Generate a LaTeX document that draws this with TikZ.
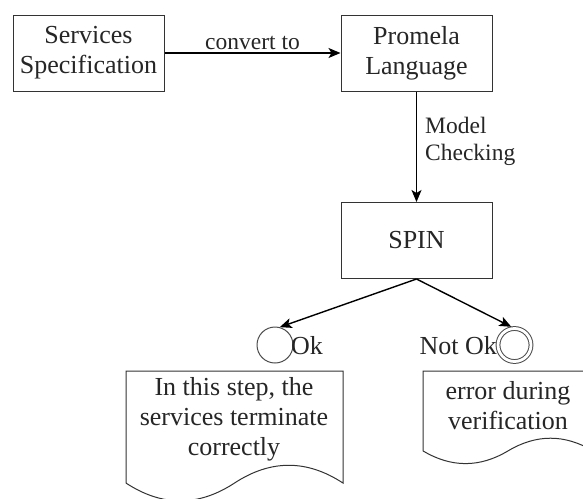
\documentclass[tikz,border=0pt]{standalone}
\usepackage{fontspec}
\setmainfont{Liberation Serif}
\usetikzlibrary{arrows.meta}
\tikzset{
  box/.style={draw=black!80, line width=1pt, minimum width=151pt, minimum height=76pt, inner sep=0pt, align=center, font=\fontsize{26}{30}\selectfont, text=black!85},
  edge/.style={draw=black, line width=1.4pt, -{Stealth[length=12pt,width=10pt,inset=3pt]}},
  lbl/.style={font=\fontsize{23.5}{27}\selectfont, text=black!85, inner sep=0pt},
  state/.style={circle, draw=black!70, line width=1pt, inner sep=0pt},
  doc/.style={draw=black!80, line width=1pt},
  doctext/.style={align=center, font=\fontsize{26}{30}\selectfont, text=black!85, inner sep=0pt},
  statetext/.style={font=\fontsize{26}{30}\selectfont, text=black!85, inner sep=0pt}
}
\begin{document}
\begin{tikzpicture}[x=1pt, y=-1pt]
\clip (0,0) rectangle (583,498);
\fill[white] (0,0) rectangle (583,498);

% boxes
\node[box] (spec) at (88.5,53) {Services\\Specification};
\node[box] (prom) at (416.5,53) {Promela\\Language};
\node[box] (spin) at (416.5,240.5) {SPIN};

% states
\node[state, minimum size=36pt] (ok) at (275,345) {};
\node[state, minimum size=33pt, double, double distance=2.8pt, outer sep=2pt] (nok) at (514.5,345) {};
\node[statetext, anchor=west] (oklbl) at (291,346) {Ok};
\node[statetext, anchor=east] (noklbl) at (497,346) {Not Ok};

% documents
\draw[doc] (126,371) -- (343,371) -- (343,483.05)
  .. controls (306.83,459.35) and (270.67,459.35) .. (234.5,483.05)
  .. controls (198.33,506.75) and (162.17,506.75) .. (126,483.05) -- cycle;
\node[doctext] (doc1) at (234,419) {In this step, the\\services terminate\\correctly};

\draw[doc] (423,371) -- (593,371) -- (593,450.9)
  .. controls (564.67,433.98) and (536.33,433.98) .. (508,450.9)
  .. controls (479.67,467.82) and (451.33,467.82) .. (423,450.9) -- cycle;
\node[doctext] (doc2) at (508,406) {error during\\verification};

% connectors
\draw[edge] (spec) -- node[lbl, midway, anchor=south, yshift=3pt] {convert to} (prom);
\draw[edge] (prom) -- node[lbl, pos=0.45, anchor=west, xshift=8pt, align=left] {Model\\Checking} (spin);
\draw[edge] (spin.south) -- (ok.75);
\draw[edge] (spin.south) -- (nok.100);
\end{tikzpicture}
\end{document}
